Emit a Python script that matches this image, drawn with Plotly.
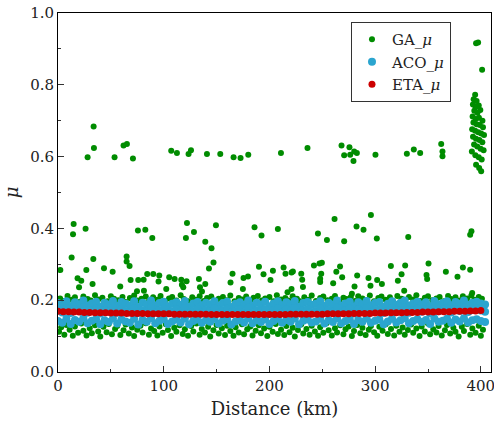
import plotly.graph_objects as go

# GA outliers around 0.6 and the cluster at the end of the route
ga_top_x = [28.0, 33.7, 34.0, 53.5, 62.0, 65.2, 70.9, 107.1, 112.5, 123.5, 125.8, 140.9, 153.5, 166.1, 172.7,
            180.0, 210.9, 236.0, 268.2, 270.7, 275.7, 276.4, 279.5, 280.2, 282.7, 300.3, 330.0, 336.6, 342.6,
            362.5, 363.7, 363.7,
            395.5, 397.4, 401.2, 394.6, 393.2, 396.0, 392.5, 395.0, 398.0, 393.8, 396.8, 399.5, 392.2, 395.2,
            398.2, 401.5, 393.0, 396.0, 399.0, 402.0, 391.8, 394.6, 397.5, 400.3, 403.0, 392.6, 395.4, 398.6,
            401.4, 393.6, 396.6, 399.8, 402.6, 391.5, 394.8, 398.0, 400.8, 395.5, 398.4, 400.3]
ga_top_y = [0.598, 0.684, 0.624, 0.598, 0.631, 0.635, 0.595, 0.616, 0.610, 0.607, 0.618, 0.607, 0.607, 0.598, 0.596,
            0.605, 0.610, 0.624, 0.631, 0.604, 0.626, 0.605, 0.588, 0.614, 0.610, 0.605, 0.608, 0.620, 0.610,
            0.635, 0.614, 0.601,
            0.916, 0.918, 0.842, 0.772, 0.760, 0.755, 0.745, 0.738, 0.742, 0.728, 0.722, 0.730, 0.712, 0.705,
            0.708, 0.700, 0.695, 0.690, 0.688, 0.682, 0.676, 0.672, 0.668, 0.664, 0.660, 0.655, 0.650, 0.646,
            0.640, 0.634, 0.628, 0.622, 0.618, 0.614, 0.604, 0.598, 0.592, 0.577, 0.568, 0.559]

# GA outliers between 0.22 and 0.45
ga_mid_x = [2.2, 12.9, 14.2, 14.8, 18.5, 19.9, 22.0, 26.1, 26.8, 32.7, 33.4, 43.5, 51.7, 58.9, 64.9, 64.9, 67.7,
            68.7, 74.7, 75.6, 75.9, 81.0, 81.3, 82.6, 84.4, 89.2, 90.1, 95.1, 95.8, 102.4, 105.2, 110.3, 116.6,
            117.2, 118.5, 121.0, 121.6, 122.0, 128.6, 133.3, 134.3, 136.2, 139.3, 139.3, 142.8, 145.2, 147.1,
            149.4, 163.2, 165.1, 174.9, 175.5, 179.7, 185.9, 190.1, 192.5, 194.4, 201.0, 203.3, 208.0, 213.4,
            215.2, 217.1, 220.9, 220.9, 222.2, 230.1, 231.0, 231.7, 242.1, 245.9, 247.4, 249.6, 249.0, 248.0,
            248.0, 254.4, 260.3, 261.6, 263.3, 266.8, 268.8, 270.7, 278.0, 280.5, 282.4, 283.0, 289.0, 293.7,
            295.6, 296.0, 301.6, 301.9, 306.4, 314.9, 321.5, 325.0, 327.5, 328.4, 331.3, 348.6, 349.2, 350.5,
            366.9, 377.9, 383.0, 389.9, 389.9, 391.1, 391.8]
ga_mid_y = [0.284, 0.319, 0.384, 0.412, 0.261, 0.236, 0.254, 0.399, 0.284, 0.245, 0.315, 0.289, 0.279, 0.238, 0.322,
            0.308, 0.295, 0.256, 0.225, 0.394, 0.256, 0.257, 0.226, 0.396, 0.273, 0.373, 0.273, 0.252, 0.269,
            0.231, 0.264, 0.259, 0.257, 0.243, 0.236, 0.373, 0.253, 0.415, 0.390, 0.259, 0.236, 0.224, 0.363,
            0.245, 0.288, 0.345, 0.305, 0.409, 0.249, 0.274, 0.231, 0.262, 0.266, 0.403, 0.293, 0.380, 0.272,
            0.256, 0.282, 0.398, 0.291, 0.274, 0.222, 0.277, 0.231, 0.280, 0.274, 0.257, 0.237, 0.297, 0.386,
            0.302, 0.304, 0.274, 0.260, 0.251, 0.368, 0.247, 0.426, 0.279, 0.294, 0.264, 0.364, 0.218, 0.238,
            0.405, 0.269, 0.396, 0.262, 0.240, 0.437, 0.372, 0.256, 0.245, 0.295, 0.254, 0.272, 0.226, 0.297,
            0.376, 0.270, 0.259, 0.302, 0.279, 0.265, 0.291, 0.285, 0.382, 0.392, 0.220]

# GA points just above the ACO band
ga_up_x = [2, 5, 9, 13, 16, 21, 24, 28, 31, 35, 38, 42, 47, 50, 53, 57, 61, 64, 68, 72, 75, 79, 83, 86, 90, 94, 97,
           101, 105, 108, 112, 116, 119, 123, 127, 130, 134, 138, 141, 145, 149, 152, 156, 160, 163, 167, 171, 174,
           178, 182, 185, 189, 193, 196, 200, 204, 207, 211, 215, 218, 222, 226, 229, 233, 237, 240, 244, 248, 251,
           255, 259, 262, 266, 270, 273, 277, 281, 284, 288, 292, 295, 299, 303, 306, 310, 314, 317, 321, 325, 328,
           332, 336, 339, 343, 347, 350, 354, 358, 361, 365, 369, 372, 376, 380, 383, 387, 391, 394, 398, 401]
ga_up_y = [0.205, 0.198, 0.212, 0.201, 0.208, 0.196, 0.210, 0.203, 0.199, 0.214, 0.202, 0.207, 0.197, 0.211, 0.204,
           0.200, 0.209, 0.195, 0.206, 0.213, 0.199, 0.204, 0.210, 0.197, 0.208, 0.201, 0.212, 0.196, 0.205, 0.209,
           0.199, 0.214, 0.203, 0.197, 0.208, 0.201, 0.211, 0.198, 0.206, 0.210, 0.195, 0.204, 0.209, 0.200, 0.213,
           0.197, 0.206, 0.202, 0.210, 0.196, 0.207, 0.212, 0.199, 0.205, 0.209, 0.197, 0.214, 0.202, 0.206, 0.199,
           0.211, 0.204, 0.197, 0.208, 0.201, 0.213, 0.198, 0.206, 0.210, 0.200, 0.204, 0.212, 0.196, 0.207, 0.203,
           0.209, 0.198, 0.211, 0.205, 0.200, 0.213, 0.197, 0.206, 0.210, 0.201, 0.208, 0.196, 0.212, 0.204, 0.199,
           0.209, 0.202, 0.214, 0.198, 0.207, 0.211, 0.200, 0.205, 0.209, 0.197, 0.212, 0.203, 0.208, 0.199, 0.211,
           0.205, 0.213, 0.201, 0.209, 0.204]

# GA points just below the ACO band
ga_low_x = [1, 3, 6, 8, 11, 14, 16, 19, 22, 24, 27, 30, 32, 35, 38, 40, 43, 46, 48, 51, 54, 56, 59, 62, 64, 67, 70,
            72, 75, 78, 80, 83, 86, 88, 91, 94, 96, 99, 102, 104, 107, 110, 112, 115, 118, 120, 123, 126, 128, 131,
            134, 136, 139, 142, 144, 147, 150, 152, 155, 158, 160, 163, 166, 168, 171, 174, 176, 179, 182, 184, 187,
            190, 192, 195, 198, 200, 203, 206, 208, 211, 214, 216, 219, 222, 224, 227, 230, 232, 235, 238, 240, 243,
            246, 248, 251, 254, 256, 259, 262, 264, 267, 270, 272, 275, 278, 280, 283, 286, 288, 291, 294, 296, 299,
            302, 304, 307, 310, 312, 315, 318, 320, 323, 326, 328, 331, 334, 336, 339, 342, 344, 347, 350, 352, 355,
            358, 360, 363, 366, 368, 371, 374, 376, 379, 382, 384, 387, 390, 392, 395, 398, 400, 402]
ga_low_y = [0.112, 0.125, 0.104, 0.131, 0.118, 0.101, 0.127, 0.109, 0.135, 0.115, 0.102, 0.122, 0.108, 0.130, 0.113,
            0.099, 0.126, 0.111, 0.134, 0.105, 0.120, 0.128, 0.103, 0.116, 0.132, 0.107, 0.124, 0.100, 0.118, 0.129,
            0.110, 0.136, 0.104, 0.121, 0.114, 0.102, 0.127, 0.109, 0.133, 0.117, 0.100, 0.123, 0.112, 0.130, 0.106,
            0.119, 0.101, 0.128, 0.113, 0.135, 0.104, 0.120, 0.110, 0.126, 0.099, 0.116, 0.131, 0.107, 0.122, 0.103,
            0.129, 0.114, 0.101, 0.125, 0.110, 0.133, 0.105, 0.119, 0.127, 0.102, 0.115, 0.130, 0.108, 0.121, 0.100,
            0.126, 0.112, 0.134, 0.106, 0.118, 0.103, 0.128, 0.111, 0.123, 0.099, 0.117, 0.132, 0.107, 0.120, 0.104,
            0.129, 0.113, 0.101, 0.125, 0.109, 0.136, 0.116, 0.102, 0.122, 0.110, 0.130, 0.105, 0.119, 0.127, 0.100,
            0.114, 0.131, 0.108, 0.123, 0.103, 0.118, 0.128, 0.111, 0.101, 0.126, 0.115, 0.133, 0.106, 0.120, 0.102,
            0.129, 0.112, 0.124, 0.104, 0.117, 0.132, 0.109, 0.121, 0.100, 0.127, 0.113, 0.135, 0.105, 0.119, 0.110,
            0.128, 0.102, 0.116, 0.131, 0.107, 0.123, 0.112, 0.099, 0.126, 0.114, 0.134, 0.104, 0.121, 0.109, 0.129,
            0.101, 0.118]

# ACO: upper, middle and lower parts of the dense band
aco_x = [0, 4, 8, 12, 16, 20, 24, 28, 32, 36, 40, 44, 48, 52, 56, 60, 64, 68, 72, 76, 80, 84, 88, 92, 96, 100,
         104, 108, 112, 116, 120, 124, 128, 132, 136, 140, 144, 148, 152, 156, 160, 164, 168, 172, 176, 180, 184,
         188, 192, 196, 200, 204, 208, 212, 216, 220, 224, 228, 232, 236, 240, 244, 248, 252, 256, 260, 264, 268,
         272, 276, 280, 284, 288, 292, 296, 300, 304, 308, 312, 316, 320, 324, 328, 332, 336, 340, 344, 348, 352,
         356, 360, 364, 368, 372, 376, 380, 384, 388, 392, 396, 400, 404]
aco_upper = [0.192, 0.186, 0.197, 0.183, 0.194, 0.189, 0.199, 0.185, 0.191, 0.196,
             0.182, 0.193, 0.188, 0.198, 0.184, 0.195, 0.190, 0.186, 0.197, 0.181,
             0.193, 0.189, 0.199, 0.185, 0.192, 0.196, 0.183, 0.190, 0.194, 0.187,
             0.198, 0.182, 0.191, 0.195, 0.186, 0.193, 0.189, 0.197, 0.184, 0.192,
             0.196, 0.181, 0.190, 0.194, 0.187, 0.199, 0.185, 0.193, 0.188, 0.196,
             0.183, 0.191, 0.197, 0.186, 0.194, 0.189, 0.198, 0.182, 0.192, 0.195,
             0.187, 0.190, 0.197, 0.184, 0.193, 0.188, 0.199, 0.185, 0.191, 0.196,
             0.183, 0.194, 0.189, 0.198, 0.186, 0.192, 0.195, 0.182, 0.190, 0.197,
             0.187, 0.193, 0.199, 0.185, 0.191, 0.196, 0.188, 0.194, 0.183, 0.198,
             0.189, 0.192, 0.197, 0.186, 0.195, 0.190, 0.199, 0.187, 0.193, 0.196,
             0.191, 0.188]
aco_mid = [0.171, 0.166, 0.177, 0.164, 0.174, 0.169, 0.179, 0.165, 0.172, 0.176,
           0.163, 0.173, 0.168, 0.178, 0.165, 0.175, 0.170, 0.166, 0.177, 0.164,
           0.172, 0.168, 0.179, 0.165, 0.171, 0.176, 0.164, 0.169, 0.174, 0.167,
           0.178, 0.163, 0.170, 0.175, 0.166, 0.173, 0.169, 0.177, 0.164, 0.171,
           0.176, 0.165, 0.170, 0.174, 0.167, 0.179, 0.164, 0.172, 0.168, 0.175,
           0.163, 0.171, 0.177, 0.166, 0.174, 0.169, 0.178, 0.165, 0.172, 0.175,
           0.167, 0.170, 0.177, 0.164, 0.173, 0.168, 0.179, 0.165, 0.171, 0.176,
           0.163, 0.174, 0.169, 0.178, 0.166, 0.172, 0.175, 0.164, 0.170, 0.177,
           0.167, 0.173, 0.179, 0.165, 0.171, 0.176, 0.168, 0.174, 0.163, 0.178,
           0.169, 0.172, 0.177, 0.166, 0.175, 0.170, 0.179, 0.167, 0.173, 0.176,
           0.171, 0.168]
aco_lower = [0.142, 0.137, 0.148, 0.134, 0.145, 0.140, 0.150, 0.136, 0.143, 0.147,
             0.133, 0.144, 0.139, 0.149, 0.135, 0.146, 0.141, 0.137, 0.148, 0.132,
             0.145, 0.140, 0.150, 0.136, 0.143, 0.147, 0.134, 0.141, 0.146, 0.138,
             0.149, 0.133, 0.142, 0.146, 0.137, 0.144, 0.140, 0.148, 0.135, 0.143,
             0.147, 0.132, 0.141, 0.145, 0.138, 0.150, 0.136, 0.144, 0.139, 0.147,
             0.134, 0.142, 0.148, 0.137, 0.145, 0.140, 0.149, 0.133, 0.143, 0.146,
             0.138, 0.141, 0.148, 0.135, 0.144, 0.139, 0.150, 0.136, 0.142, 0.147,
             0.134, 0.145, 0.140, 0.149, 0.137, 0.143, 0.146, 0.133, 0.141, 0.148,
             0.138, 0.144, 0.150, 0.136, 0.142, 0.147, 0.139, 0.145, 0.134, 0.149,
             0.140, 0.143, 0.148, 0.137, 0.146, 0.141, 0.150, 0.138, 0.144, 0.147,
             0.142, 0.139]

# ETA
eta_x = [0, 5, 10, 15, 20, 25, 30, 35, 40, 45, 50, 55, 60, 65, 70, 75, 80, 85, 90, 95, 100, 105, 110, 115, 120,
         125, 130, 135, 140, 145, 150, 155, 160, 165, 170, 175, 180, 185, 190, 195, 200, 205, 210, 215, 220, 225,
         230, 235, 240, 245, 250, 255, 260, 265, 270, 275, 280, 285, 290, 295, 300, 305, 310, 315, 320, 325, 330,
         335, 340, 345, 350, 355, 360, 365, 370, 375, 380, 385, 390, 395, 400]
eta_y = [0.169, 0.168, 0.168, 0.167, 0.167, 0.166, 0.166, 0.165, 0.165, 0.165, 0.164, 0.164, 0.164, 0.163, 0.163,
         0.163, 0.163, 0.162, 0.162, 0.162, 0.162, 0.162, 0.161, 0.161, 0.161, 0.161, 0.161, 0.161, 0.161, 0.160,
         0.160, 0.160, 0.160, 0.160, 0.160, 0.160, 0.160, 0.160, 0.160, 0.160, 0.160, 0.160, 0.160, 0.160, 0.161,
         0.161, 0.161, 0.161, 0.161, 0.161, 0.161, 0.162, 0.162, 0.162, 0.162, 0.162, 0.163, 0.163, 0.163, 0.163,
         0.164, 0.164, 0.164, 0.165, 0.165, 0.165, 0.166, 0.166, 0.166, 0.167, 0.167, 0.167, 0.168, 0.168, 0.168,
         0.169, 0.169, 0.169, 0.170, 0.170, 0.171]

ga_x = ga_up_x + ga_low_x + ga_mid_x + ga_top_x
ga_y = ga_up_y + ga_low_y + ga_mid_y + ga_top_y

FONT = "DejaVu Serif"

fig = go.Figure()
fig.add_trace(go.Scatter(x=ga_x, y=ga_y, mode="markers", name="GA_<i>μ</i>",
                         marker=dict(color="#008c00", size=6, line=dict(width=0))))
fig.add_trace(go.Scatter(x=aco_x * 3, y=aco_upper + aco_mid + aco_lower, mode="markers", name="ACO_<i>μ</i>",
                         marker=dict(color="#2ba5cf", size=8, line=dict(width=0))))
fig.add_trace(go.Scatter(x=eta_x, y=eta_y, mode="markers", name="ETA_<i>μ</i>",
                         marker=dict(color="#cc0000", size=7, line=dict(width=0))))

axis_common = dict(showline=True, linecolor="black", linewidth=1, mirror=True, showgrid=False, zeroline=False,
                   automargin=False, ticks="inside", ticklen=6, tickcolor="#333",
                   ticklabeloverflow="allow",
                   tickfont=dict(family=FONT, size=15, color="#222"))

fig.update_xaxes(range=[0, 409.6], tick0=0, dtick=100,
                 minor=dict(dtick=50, ticks="inside", ticklen=3, tickcolor="#333"),
                 title=dict(text="Distance (km)", font=dict(family=FONT, size=18, color="#222"), standoff=8),
                 **axis_common)
fig.update_yaxes(range=[0, 1.0], tick0=0, dtick=0.2, tickformat=".1f",
                 minor=dict(dtick=0.1, ticks="inside", ticklen=3, tickcolor="#333"),
                 title=dict(text="<i>μ</i>", font=dict(family=FONT, size=18, color="#222"), standoff=6),
                 **axis_common)

fig.update_layout(
    width=494, height=423,
    margin=dict(l=58, r=3, t=13, b=51),
    plot_bgcolor="white", paper_bgcolor="white",
    legend=dict(x=0.9076, y=0.975, xanchor="right", yanchor="top",
                bgcolor="white", bordercolor="#333", borderwidth=1,
                font=dict(family=FONT, size=15, color="#222"),
                itemwidth=30, tracegroupgap=0),
    showlegend=True,
)

# drop the page's default body margin so the figure sits at the window corner
fig.write_html("out.html", config={"displayModeBar": False},
               post_script="document.body.style.margin = '0';")
